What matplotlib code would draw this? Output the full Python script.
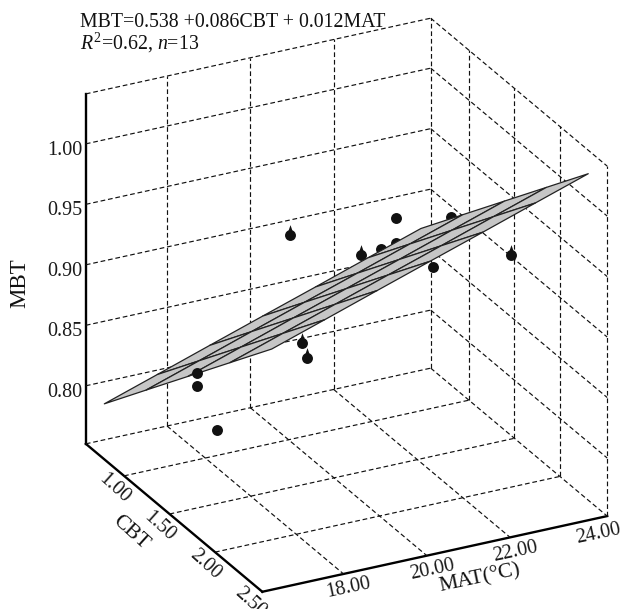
import numpy as np
import matplotlib
matplotlib.use("Agg")
import matplotlib.pyplot as plt
from matplotlib.path import Path

plt.rcParams['font.family'] = ['Liberation Serif', 'DejaVu Serif']
plt.rcParams['mathtext.fontset'] = 'custom'
plt.rcParams['mathtext.rm'] = 'Liberation Serif'
plt.rcParams['mathtext.it'] = 'Liberation Serif:italic'

# ---- observations (MAT, CBT, MBT) ----
# points lying behind the fitted plane, plain round
mat_round = [18.05, 22.05, 22.55, 22.05, 22.05, 23.05, 17.55]
cbt_round = [1.11, 1.24, 1.62, 1.08, 1.24, 1.19, 1.11]
mbt_round = [0.7817, 0.9350, 0.9557, 0.8993, 0.9143, 0.8837, 0.8219]
# points with the small drop-shaped tail
mat_drop = [20.05, 21.05, 19.55, 19.05, 23.55]
cbt_drop = [0.99, 1.31, 1.35, 1.64, 1.82]
mbt_drop = [0.9200, 0.9166, 0.8576, 0.8669, 0.9299]
# point drawn above the plane
mat_front = [17.05]
cbt_front = [1.34]
mbt_front = [0.8509]

# ---- fitted plane mesh ----
mat_grid = [16.45, 17.72, 18.98, 20.25, 21.52, 22.78, 24.05]
cbt_grid = [0.60, 1.06, 1.52, 1.98, 2.44]
mbt_grid = [
    [0.7833, 0.7979, 0.8125, 0.8271, 0.8416, 0.8562, 0.8708],
    [0.8237, 0.8383, 0.8529, 0.8675, 0.8820, 0.8966, 0.9112],
    [0.8640, 0.8786, 0.8932, 0.9078, 0.9223, 0.9369, 0.9515],
    [0.9043, 0.9189, 0.9335, 0.9481, 0.9626, 0.9772, 0.9918],
    [0.9446, 0.9592, 0.9738, 0.9884, 1.0029, 1.0175, 1.0321],
]

# ---- axes ----
mat_lim = (16.05, 24.33)
cbt_lim = (0.58, 2.52)
mbt_lim = (0.752, 1.0413)
mat_ticks = [18, 20, 22, 24]
cbt_ticks = [1.0, 1.5, 2.0, 2.5]
mbt_ticks = [0.80, 0.85, 0.90, 0.95, 1.00]
mat_grid_lines = [18, 20, 22]
cbt_grid_lines = [1.0, 1.5, 2.0]
mbt_grid_lines = [0.80, 0.85, 0.90, 0.95, 1.00]

fig = plt.figure(figsize=(6.23, 6.09), dpi=100)
ax = fig.add_axes([0.043, -0.0143, 1, 1], projection='3d', computed_zorder=False)
ax.set_proj_type('ortho')
ax.view_init(elev=25.4, azim=-117.1)
ax.set_box_aspect((1, 1, 1), zoom=1.0696)
ax.set_xlim(*mat_lim)
ax.set_ylim(cbt_lim[1], cbt_lim[0])
ax.set_zlim(*mbt_lim)
ax.grid(False)
ax.patch.set_alpha(0)

x0, x1 = mat_lim
y0, y1 = cbt_lim
z0, z1 = mbt_lim

for axis in (ax.xaxis, ax.yaxis, ax.zaxis):
    axis.pane.set_visible(False)
    axis.line.set_color('black')
    axis.line.set_linewidth(1.7)

GS = dict(color='#111111', lw=0.85, dashes=(4, 2.4), zorder=1)
def seg(a, b, c):
    ax.plot(a, b, c, **GS)

for m in mat_grid_lines:
    seg([m, m], [y0, y1], [z0, z0])
    seg([m, m], [y0, y0], [z0, z1])
for c in cbt_grid_lines:
    seg([x0, x1], [c, c], [z0, z0])
    seg([x1, x1], [c, c], [z0, z1])
for v in mbt_grid_lines:
    seg([x0, x1], [y0, y0], [v, v])
    seg([x1, x1], [y0, y1], [v, v])
seg([x0, x1], [y0, y0], [z0, z0])
seg([x1, x1], [y0, y1], [z0, z0])
seg([x0, x1], [y0, y0], [z1, z1])
seg([x1, x1], [y0, y1], [z1, z1])
seg([x1, x1], [y0, y0], [z0, z1])
seg([x1, x1], [y1, y1], [z0, z1])

# round and drop markers
DOT = 62
tail = Path([(0.35, 0.9), (0.0, 1.9), (-0.35, 0.9), (0.35, 0.9)], closed=True)
drop = Path.make_compound_path(Path.unit_circle(), tail)
ax.scatter(mat_round, cbt_round, mbt_round, s=DOT, c='#111111', marker='o',
           linewidths=0, depthshade=False, zorder=2)
ax.scatter(mat_drop, cbt_drop, mbt_drop, s=DOT * 1.9 ** 2, c='#111111', marker=drop,
           linewidths=0, depthshade=False, zorder=2)

X, Y = np.meshgrid(mat_grid, cbt_grid)
ax.plot_surface(X, Y, np.array(mbt_grid), rstride=1, cstride=1, color='#c6c6c6',
                edgecolor='#222222', linewidth=0.9, shade=False, zorder=3)

ax.scatter(mat_front, cbt_front, mbt_front, s=DOT, c='#111111', marker='o',
           linewidths=0, depthshade=False, zorder=4)

ax.set_xticks(mat_ticks)
ax.set_xticklabels([f'{t:.2f}' for t in mat_ticks])
ax.set_yticks(cbt_ticks)
ax.set_yticklabels([f'{t:.2f}' for t in cbt_ticks])
ax.set_zticks(mbt_ticks)
ax.set_zticklabels([f'{t:.2f}' for t in mbt_ticks])
ax.tick_params(axis='x', labelsize=14.5, labelcolor='#1a1a1a', color=(0, 0, 0, 0), labelrotation=12, pad=-1.4)
ax.tick_params(axis='y', labelsize=14.5, labelcolor='#1a1a1a', color=(0, 0, 0, 0), labelrotation=-42, pad=-1.5)
ax.tick_params(axis='z', labelsize=14.5, labelcolor='#1a1a1a', color=(0, 0, 0, 0), pad=1)
ax.zaxis.set_ticks_position('lower')
for tl in list(ax.xaxis.get_ticklabels()) + list(ax.yaxis.get_ticklabels()):
    tl.set_ha('center')
    tl.set_va('center')

W, H = 623.0, 609.0
def lab(px, py, s, rot, size=15.5):
    fig.text(px / W, 1 - py / H, s, rotation=rot, ha='center', va='center',
             rotation_mode='anchor', fontsize=size, color='#111111')
lab(480, 578, 'MAT(°C)', 12)
lab(131, 533, 'CBT', -42)
lab(20, 283, 'MBT', 90, size=16.5)
fig.text(80 / W, 1 - 22.5 / H, 'MBT=0.538 +0.086CBT + 0.012MAT', ha='left', va='center',
         fontsize=14.3, color='#111111')
fig.text(80 / W, 1 - 43 / H, r'$R^2$=0.62, $n$=13', ha='left', va='center',
         fontsize=14.3, color='#111111')

fig.savefig('out.png', dpi=100)
